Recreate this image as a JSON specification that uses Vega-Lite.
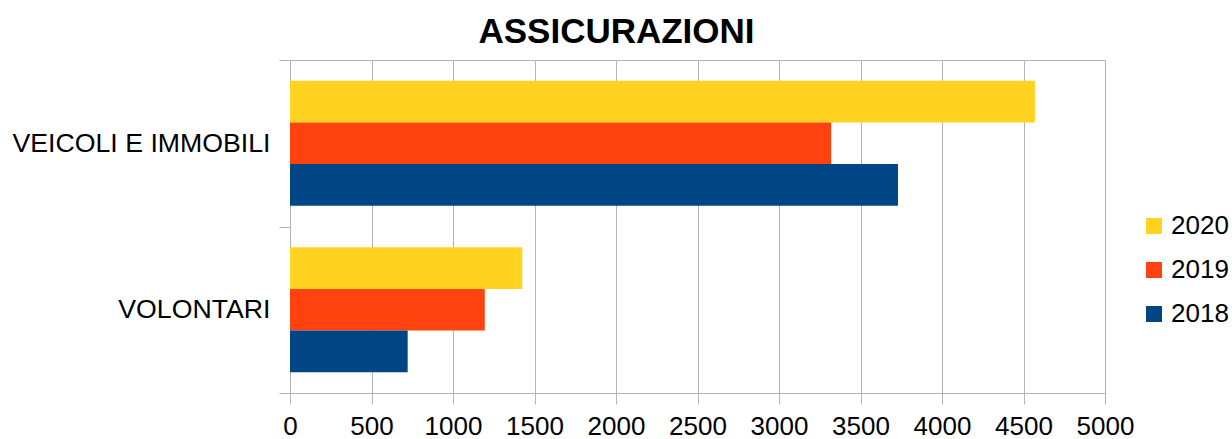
{
  "$schema": "https://vega.github.io/schema/vega-lite/v6.json",
  "autosize": "none",
  "width": 815,
  "height": 333,
  "padding": {"left": 290, "top": 60, "right": 127, "bottom": 46},
  "background": "white",
  "title": {
    "text": "ASSICURAZIONI",
    "font": "Liberation Sans",
    "fontSize": 35,
    "fontWeight": "bold",
    "color": "#000000",
    "anchor": "middle",
    "frame": "group",
    "dx": -81,
    "dy": 18,
    "offset": 15
  },
  "data": {
    "values": [
      {"categoria": "VEICOLI E IMMOBILI", "anno": "2020", "valore": 4570},
      {"categoria": "VEICOLI E IMMOBILI", "anno": "2019", "valore": 3320},
      {"categoria": "VEICOLI E IMMOBILI", "anno": "2018", "valore": 3730},
      {"categoria": "VOLONTARI", "anno": "2020", "valore": 1425},
      {"categoria": "VOLONTARI", "anno": "2019", "valore": 1195},
      {"categoria": "VOLONTARI", "anno": "2018", "valore": 722}
    ]
  },
  "mark": {"type": "bar", "orient": "horizontal"},
  "encoding": {
    "y": {
      "field": "categoria",
      "type": "nominal",
      "sort": ["VEICOLI E IMMOBILI", "VOLONTARI"],
      "scale": {"paddingInner": 0, "paddingOuter": 0},
      "axis": {
        "title": null,
        "tickBand": "extent",
        "tickSize": 11,
        "tickColor": "#b3b3b3",
        "domainColor": "#b3b3b3",
        "labelFont": "Liberation Sans",
        "labelFontSize": 26.7,
        "labelColor": "#000000",
        "labelPadding": 9,
        "labelLimit": 400,
        "grid": false
      }
    },
    "yOffset": {
      "field": "anno",
      "type": "nominal",
      "sort": ["2020", "2019", "2018"],
      "scale": {"paddingInner": 0, "paddingOuter": 0.5}
    },
    "x": {
      "field": "valore",
      "type": "quantitative",
      "scale": {"domain": [0, 5000], "nice": false},
      "axis": {
        "title": null,
        "values": [0, 500, 1000, 1500, 2000, 2500, 3000, 3500, 4000, 4500, 5000],
        "format": "d",
        "grid": true,
        "gridColor": "#b3b3b3",
        "gridOpacity": 1,
        "tickSize": 11,
        "tickColor": "#b3b3b3",
        "domainColor": "#b3b3b3",
        "labelFont": "Liberation Sans",
        "labelFontSize": 26,
        "labelColor": "#000000",
        "labelPadding": 9,
        "labelFlush": false
      }
    },
    "color": {
      "field": "anno",
      "type": "nominal",
      "scale": {"domain": ["2020", "2019", "2018"], "range": ["#FFD320", "#FF420E", "#004586"]},
      "legend": {
        "title": null,
        "orient": "none",
        "legendX": 851,
        "legendY": 153,
        "padding": 0,
        "symbolType": "square",
        "symbolSize": 256,
        "symbolStrokeWidth": 0,
        "labelFont": "Liberation Sans",
        "labelFontSize": 26,
        "labelColor": "#000000",
        "labelOffset": 4,
        "rowPadding": 18
      }
    }
  },
  "config": {
    "view": {"stroke": "#b3b3b3"}
  }
}
